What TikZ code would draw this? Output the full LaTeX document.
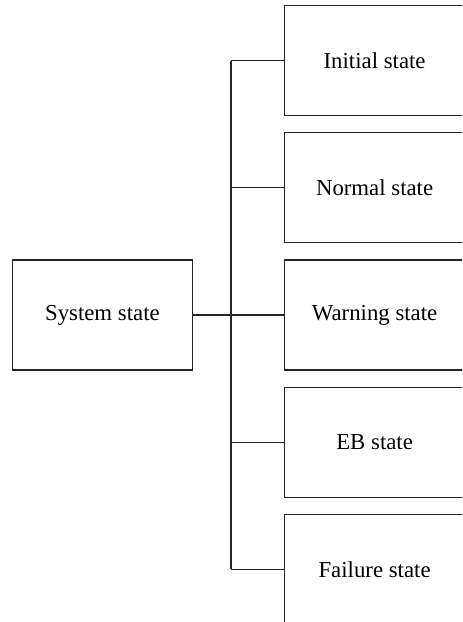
\documentclass[tikz,border=0pt]{standalone}
\usepackage{fontspec}
\setmainfont{Liberation Serif}
\usetikzlibrary{positioning}
\tikzset{
  statebox/.style={
    draw=black!85, line width=0.6pt, fill=white,
    minimum width=90pt, minimum height=55pt, inner sep=0pt,
    align=center, font=\fontsize{11.4}{13}\selectfont
  },
  link/.style={draw=black!85, line width=0.6pt}
}

\begin{document}
\begin{tikzpicture}[node distance=8pt]
        \clip (0,0) rectangle (231pt,-311pt);
        \useasboundingbox (0,0) rectangle (231pt,-311pt);
        % the five sub-states, stacked down the right side
        \node[statebox,anchor=north west] (init) at (142pt,-2.5pt) {Initial state};
        \node[statebox,below=of init] (normal) {Normal state};
        \node[statebox,below=of normal] (warn) {Warning state};
        \node[statebox,below=of warn] (eb) {EB state};
        \node[statebox,below=of eb] (fail) {Failure state};
        \node[statebox,left=45.5pt of warn] (sys) {System state};
        % bracket joining them
        \path (sys.east) ++(19pt,0) coordinate (bus);
        \draw[link] (sys.east)--(bus);
        \draw[link] (init.west -| bus)--(fail.west -| bus);
        \foreach \s in {init,normal,warn,eb,fail}
          \draw[link] (\s.west)--(\s.west -| bus);
      \end{tikzpicture}
\end{document}
